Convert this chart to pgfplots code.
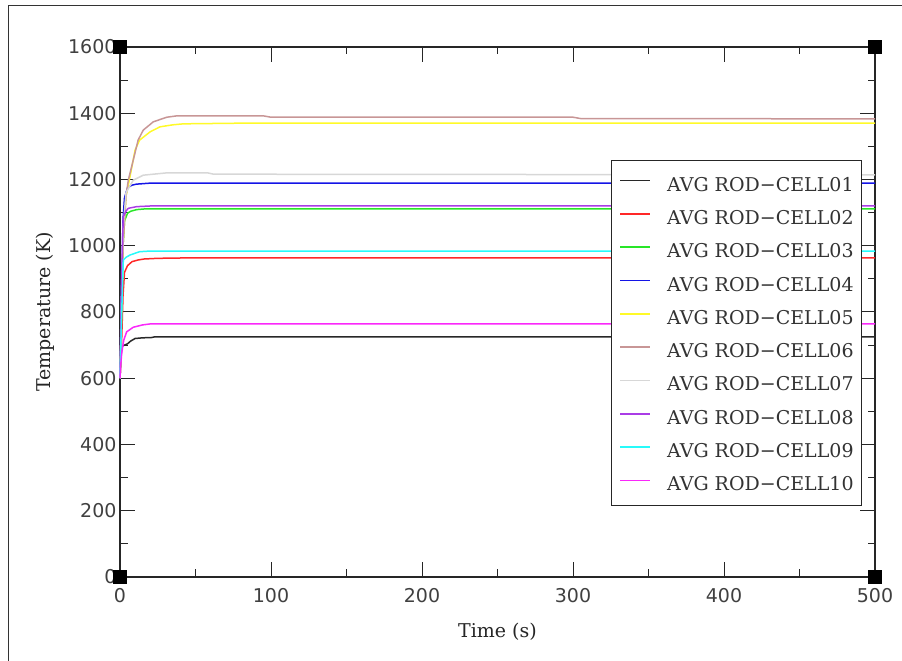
\documentclass[border=0pt]{standalone}
\usepackage{fontspec}
\setmainfont{DejaVu Serif}
\newfontfamily\ticksans{DejaVu Sans}
\usepackage{pgfplots}
\pgfplotsset{compat=1.18}

\definecolor{c01}{RGB}{40,40,40}
\definecolor{c02}{RGB}{255,40,40}
\definecolor{c03}{RGB}{40,230,40}
\definecolor{c04}{RGB}{20,20,230}
\definecolor{c05}{RGB}{255,250,40}
\definecolor{c06}{RGB}{200,150,150}
\definecolor{c07}{RGB}{215,215,215}
\definecolor{c08}{RGB}{170,60,230}
\definecolor{c09}{RGB}{40,250,250}
\definecolor{c10}{RGB}{250,40,250}

\newcommand\plotfont{\fontsize{19bp}{22bp}\selectfont}

\begin{document}
\begin{tikzpicture}[x=1bp,y=1bp]
\useasboundingbox (0,0) rectangle (902,661);
\draw[line width=1bp, black!80] (8,0) -- (8,655) -- (902,655);
\begin{axis}[
  at={(120bp,84bp)}, anchor=south west,
  scale only axis, width=755bp, height=530bp,
  xmin=0, xmax=500, ymin=0, ymax=1600,
  xtick={0,100,...,500}, ytick={0,200,...,1600},
  minor x tick num=1, minor y tick num=1,
  tick align=inside,
  major tick length=15bp, minor tick length=7.5bp,
  axis line style={line width=1.2bp, black!85},
  every tick/.style={black!85, line width=1bp},
  ticklabel style={font=\ticksans\plotfont, text=black!75},
  xticklabel style={yshift=-8bp},
  /pgf/number format/assume math mode=true,
  /pgf/number format/1000 sep={},
  xlabel={Time (s)}, ylabel={Temperature (K)},
  label style={font=\plotfont, text=black!85},
  xlabel style={at={(axis description cs:0.5,-0.104)}, anchor=center},
  ylabel style={at={(axis description cs:-0.0993,0.5)}, anchor=center},
  clip=false,
  legend cell align=left,
  legend style={at={(rel axis cs:0.6503,0.7868)}, anchor=north west,
    draw=black!85, line width=1bp, fill=white,
    font=\plotfont, text=black!80,
    inner xsep=8bp, inner ysep=10.7bp, row sep=9.3bp,
    nodes={inner sep=0pt, text height=20bp, text depth=4bp}},
  legend image code/.code={\draw[#1, line width=1.6bp] (0bp,2.5bp) -- (30bp,2.5bp); \path (46bp,2.5bp);},
  every axis plot/.append style={line width=1.5bp},
]
% corner markers of the frame
\addplot[only marks, mark=square*, mark size=6bp, black, forget plot]
  coordinates {(0,0) (500,0) (0,1600) (500,1600)};

\addplot[c01] coordinates {(0,600) (0.5,650) (1,685) (1.5,697) (3,700) (5,704) (7,712) (10,720) (15,722) (21,723) (23,725) (500,725)};
\addlegendentry{AVG ROD−CELL01}
\addplot[c02] coordinates {(0,600) (1,700) (2,850) (3,920) (5,940) (8,952) (12,957) (16,960) (25,962) (40,963) (500,963)};
\addlegendentry{AVG ROD−CELL02}
\addplot[c03] coordinates {(0,600) (1,800) (2,1000) (3,1075) (5,1098) (7,1104) (11,1109) (16,1111) (500,1111)};
\addlegendentry{AVG ROD−CELL03}
\addplot[c04] coordinates {(0,600) (1,850) (2,1080) (3,1145) (5,1175) (8,1183) (11,1186) (20,1189) (500,1189)};
\addlegendentry{AVG ROD−CELL04}
\addplot[c05] coordinates {(0,600) (1,800) (2,1000) (4,1150) (6.6,1208) (10,1289) (13,1319) (20,1344) (26.5,1359) (35,1365) (42,1368) (80,1370) (500,1370)};
\addlegendentry{AVG ROD−CELL05}
\addplot[c06] coordinates {(0,600) (1,800) (2,1000) (4,1150) (5.5,1198) (8.8,1259) (12,1319) (15.4,1349) (22,1374) (31,1388) (37.5,1392) (95,1392) (100,1388) (300,1388) (305,1384) (500,1383)};
\addlegendentry{AVG ROD−CELL06}
\addplot[c07] coordinates {(0,600) (1,850) (2,1050) (4,1160) (8.8,1198) (15.4,1213) (31,1220) (58,1220) (62,1216) (500,1214)};
\addlegendentry{AVG ROD−CELL07}
\addplot[c08] coordinates {(0,600) (1,900) (2.2,1088) (4,1105) (5.5,1113) (11,1118) (20,1120) (500,1120)};
\addlegendentry{AVG ROD−CELL08}
\addplot[c09] coordinates {(0,600) (1,780) (2.2,957) (4,965) (6.6,972) (13,982) (20,984) (500,984)};
\addlegendentry{AVG ROD−CELL09}
\addplot[c10] coordinates {(0,600) (0.5,640) (1.1,675) (2.5,715) (4.4,740) (8.8,754) (15,761) (20,764) (500,764)};
\addlegendentry{AVG ROD−CELL10}
\end{axis}
\end{tikzpicture}
\end{document}
